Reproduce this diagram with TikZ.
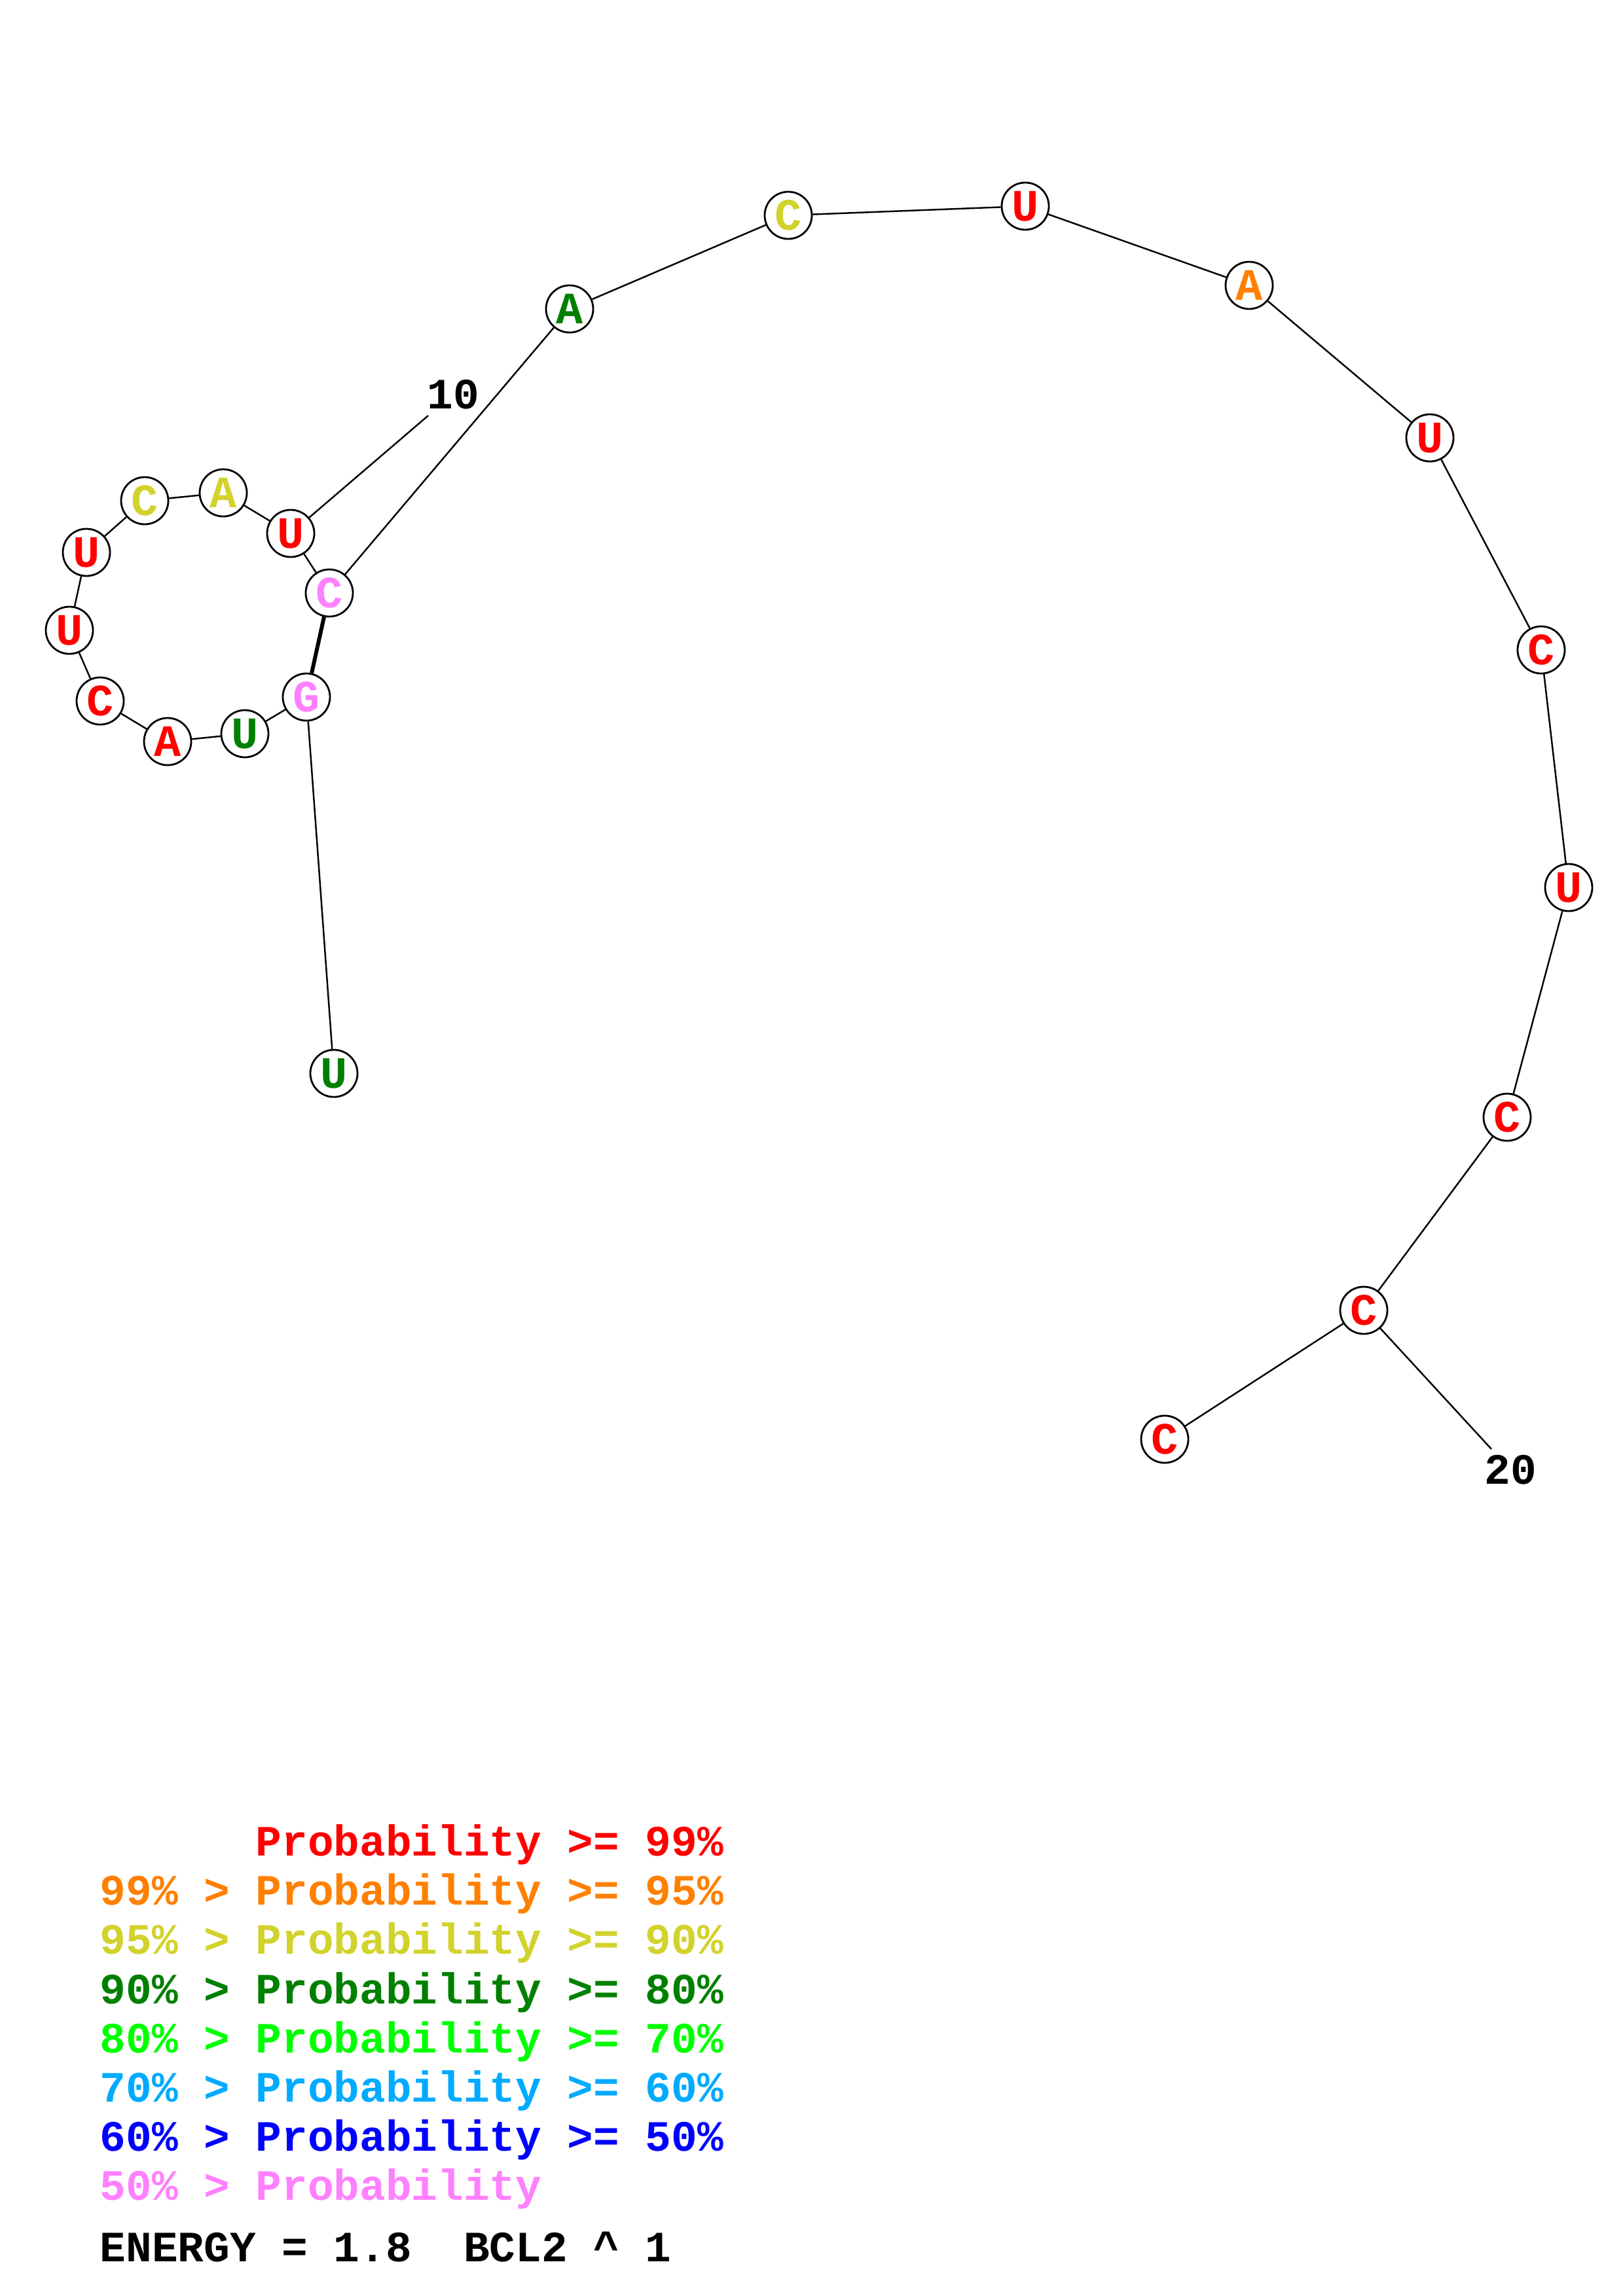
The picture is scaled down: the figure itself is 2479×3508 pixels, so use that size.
\documentclass[tikz,border=0pt]{standalone}
\usepackage{fontspec}
\setmainfont{Liberation Mono}
\definecolor{pr99}{RGB}{255,0,0}
\definecolor{pr95}{RGB}{255,128,0}
\definecolor{pr90}{RGB}{210,210,45}
\definecolor{pr80}{RGB}{0,128,0}
\definecolor{pr70}{RGB}{0,255,0}
\definecolor{pr60}{RGB}{0,170,255}
\definecolor{pr50}{RGB}{0,0,255}
\definecolor{prlow}{RGB}{255,128,255}
\tikzset{
  base/.style={circle,draw,line width=0.8pt,minimum size=0.72cm,inner sep=0pt,fill=white,
    font=\fontsize{19.5}{20}\selectfont\bfseries},
  bb/.style={line width=0.7pt},
  pairbond/.style={line width=1.7pt},
  lbl/.style={inner sep=0pt,font=\fontsize{18.8}{20}\selectfont\bfseries},
  leg/.style={inner sep=0pt,anchor=base west,font=\fontsize{18.8}{20}\selectfont\bfseries}
}
\begin{document}
\begin{tikzpicture}[x=0.01cm,y=-0.01cm]
\useasboundingbox (0,0) rectangle (2479,3508);
% nucleotides
\node[base,text=pr80]  (n1)  at (510,1640) {U};
\node[base,text=prlow] (n2)  at (468,1065) {G};
\node[base,text=pr80]  (n3)  at (374,1121) {U};
\node[base,text=pr99]  (n4)  at (256,1133) {A};
\node[base,text=pr99]  (n5)  at (153,1071) {C};
\node[base,text=pr99]  (n6)  at (106,963)  {U};
\node[base,text=pr99]  (n7)  at (132,844)  {U};
\node[base,text=pr90]  (n8)  at (221,765)  {C};
\node[base,text=pr90]  (n9)  at (341,753)  {A};
\node[base,text=pr99]  (n10) at (444,815)  {U};
\node[base,text=prlow] (n11) at (503,906)  {C};
\node[base,text=pr80]  (n12) at (870,472)  {A};
\node[base,text=pr90]  (n13) at (1204,329) {C};
\node[base,text=pr99]  (n14) at (1566,315) {U};
\node[base,text=pr95]  (n15) at (1908,436) {A};
\node[base,text=pr99]  (n16) at (2184,669) {U};
\node[base,text=pr99]  (n17) at (2354,993) {C};
\node[base,text=pr99]  (n18) at (2396,1356) {U};
\node[base,text=pr99]  (n19) at (2302,1707) {C};
\node[base,text=pr99]  (n20) at (2083,2002) {C};
\node[base,text=pr99]  (n21) at (1779,2199) {C};
% backbone
\foreach \a/\b in {1/2,2/3,3/4,4/5,5/6,6/7,7/8,8/9,9/10,10/11,11/12,12/13,13/14,14/15,15/16,16/17,17/18,18/19,19/20,20/21}
  \draw[bb] (n\a) -- (n\b);
% base pair
\draw[pairbond] (n2) -- (n11);
% numbering
\node[lbl] (t10) at (692,603) {10};
\node[lbl] (t20) at (2307,2246) {20};
\coordinate (e10) at (654,635);
\coordinate (e20) at (2278,2214);
\draw[bb] (n10) -- (e10);
\draw[bb] (n20) -- (e20);
% legend
\node[leg,text=pr99]  (l1) at (152,2835) {~~~~~~Probability~>=~99\%};
\node[leg,text=pr95]  (l2) at (152,2910) {99\%~>~Probability~>=~95\%};
\node[leg,text=pr90]  (l3) at (152,2985) {95\%~>~Probability~>=~90\%};
\node[leg,text=pr80]  (l4) at (152,3061) {90\%~>~Probability~>=~80\%};
\node[leg,text=pr70]  (l5) at (152,3136) {80\%~>~Probability~>=~70\%};
\node[leg,text=pr60]  (l6) at (152,3211) {70\%~>~Probability~>=~60\%};
\node[leg,text=pr50]  (l7) at (152,3286) {60\%~>~Probability~>=~50\%};
\node[leg,text=prlow] (l8) at (152,3361) {50\%~>~Probability};
\node[leg,text=black] (l9) at (152,3455) {ENERGY~=~1.8~~BCL2~\^{}~1};
\end{tikzpicture}
\end{document}
